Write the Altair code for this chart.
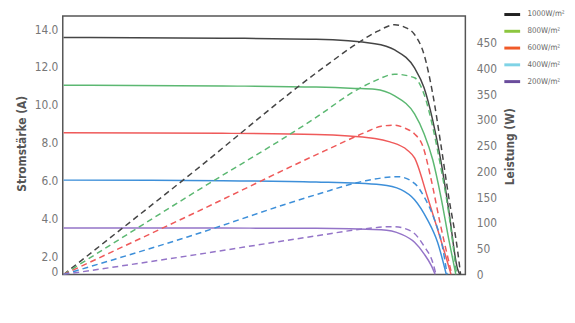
import altair as alt
import pandas as pd

FONT = "DejaVu Sans Condensed, Liberation Sans Narrow, sans-serif"

series = ["1000", "800", "600", "400", "200"]
legend_labels = ["1000W/m²", "800W/m²", "600W/m²", "400W/m²", "200W/m²"]
line_colors = ["#454545", "#5cb872", "#ef5a5a", "#3d8fd9", "#9474c8"]
legend_colors = ["#222222", "#8cc63f", "#f05a28", "#7fd3e6", "#6a4c9c"]

# Current (I-V) curves, left axis
i_v = {
    "1000": [0, 20, 31.8, 39.2, 41.7, 44.2, 45.4, 46.5, 47.5, 48.5, 49.6, 49.9],
    "800": [0, 20, 31.8, 36.7, 39.2, 41.7, 44.2, 45.4, 46.5, 47.5, 48.5, 49.4],
    "600": [0, 20, 31.8, 39.2, 41.1, 43.3, 44.2, 45.8, 47.1, 48.1, 48.8],
    "400": [0, 20, 31.8, 40.0, 42.5, 44.2, 45.8, 47.1, 48.2],
    "200": [0, 20, 31.8, 40.0, 42.5, 44.2, 45.4, 46.3, 46.8],
}
i_a = {
    "1000": [13.56, 13.52, 13.46, 13.23, 12.9, 11.95, 10.9, 9.17, 7.09, 4.48, 1.37, 1.05],
    "800": [11.04, 11.0, 10.94, 10.87, 10.82, 10.47, 9.52, 8.48, 7.09, 5.19, 2.93, 1.05],
    "600": [8.53, 8.5, 8.44, 8.23, 8.05, 7.61, 7.2, 5.18, 3.44, 2.05, 1.05],
    "400": [6.03, 6.0, 5.93, 5.79, 5.53, 5.0, 3.96, 2.75, 1.05],
    "200": [3.51, 3.5, 3.49, 3.41, 3.18, 2.75, 2.14, 1.53, 1.05],
}

# Power (P-V) curves, right axis
p_v = {
    "1000": [0, 15.6, 33, 37.1, 39.5, 41.7, 43.0, 44.2, 45.4, 46.5, 47.5, 48.5, 49.6, 50.0],
    "800": [0, 15.6, 31.8, 37.1, 39.2, 41.7, 44.2, 45.4, 46.5, 47.5, 48.5, 49.5],
    "600": [0, 15.6, 33, 38.0, 40.0, 41.7, 43.0, 44.2, 45.2, 46.3, 47.4, 48.9],
    "400": [0, 15.6, 31.8, 38.0, 42.1, 44.2, 45.4, 46.7, 47.7, 48.3],
    "200": [0, 15.6, 31.8, 38.0, 41.5, 43.8, 45.4, 46.5, 46.9],
}
p_w = {
    "1000": [0, 190, 405, 450, 472, 485, 480, 466, 427, 350, 254, 151, 49, 0],
    "800": [0, 151, 305, 360, 376, 389, 382, 350, 286, 209, 120, 0],
    "600": [0, 113, 241, 276, 288, 290, 284, 273, 251, 184, 101, 0],
    "400": [0, 73, 155, 182, 190, 177, 151, 107, 55, 0],
    "200": [0, 36, 75, 89, 93, 84, 55, 23, 0],
}

x_ticks = [0, 10, 20, 30, 40, 50]
left_ticks = [1.22, 2, 4, 6, 8, 10, 12, 14]
right_ticks = [0, 50, 100, 150, 200, 250, 300, 350, 400, 450]

rows_i, rows_p = [], []
for s, lab in zip(series, legend_labels):
    for k, (v, a) in enumerate(zip(i_v[s], i_a[s])):
        rows_i.append({"series": s, "label": lab, "V": v, "val": a, "order": k})
    for k, (v, w) in enumerate(zip(p_v[s], p_w[s])):
        rows_p.append({"series": s, "label": lab, "V": v, "val": w, "order": k})
df_i = pd.DataFrame(rows_i)
df_p = pd.DataFrame(rows_p)

x_enc = alt.X(
    "V:Q",
    scale=alt.Scale(domain=[-0.1, 50.6], nice=False, zero=False),
    axis=alt.Axis(
        values=x_ticks, title="Spannung (V)", titleX=209, titleY=37,
        titleBaseline="middle", titleAlign="center", labelPadding=7,
    ),
)
color_lines = alt.Color("series:N", scale=alt.Scale(domain=series, range=line_colors), legend=None)

cur = alt.Chart(df_i).mark_line(interpolate="monotone", strokeWidth=1.5, clip=True).encode(
    x=x_enc,
    y=alt.Y(
        "val:Q",
        scale=alt.Scale(domain=[1.05, 14.69], nice=False, zero=False),
        axis=alt.Axis(
            values=left_ticks, orient="left", title="Stromstärke (A)",
            labelExpr="datum.value < 1.5 ? '0' : format(datum.value, '.1f')",
            titleAngle=270, titleX=-42, titleY=129, titleBaseline="middle",
            titleAlign="center", labelPadding=5,
        ),
    ),
    color=color_lines,
    detail="series:N",
    order="order:Q",
)

powr = alt.Chart(df_p).mark_line(interpolate="monotone", strokeWidth=1.5, strokeDash=[6, 4], clip=True).encode(
    x=x_enc,
    y=alt.Y(
        "val:Q",
        scale=alt.Scale(domain=[0, 502], nice=False),
        axis=alt.Axis(
            values=right_ticks, orient="right", title="Leistung (W)",
            titleAngle=270, titleX=45, titleY=132, titleBaseline="middle",
            titleAlign="center", labelPadding=11,
        ),
    ),
    color=color_lines,
    detail="series:N",
    order="order:Q",
)

leg = alt.Chart(df_p).mark_line(opacity=0).encode(
    x=alt.X("V:Q", scale=alt.Scale(domain=[-0.1, 50.6], nice=False, zero=False), axis=None),
    y=alt.Y("val:Q", scale=alt.Scale(domain=[0, 502], nice=False), axis=None),
    color=alt.Color(
        "label:N",
        scale=alt.Scale(domain=legend_labels, range=legend_colors),
        legend=alt.Legend(
            title=None, orient="none", legendX=446, legendY=-11, symbolType="stroke",
            symbolSize=256, symbolStrokeWidth=3, symbolOpacity=1, labelFontSize=8,
            labelColor="#666", labelFont=FONT, labelOffset=6, rowPadding=1, padding=0,
        ),
    ),
)

chart = alt.layer(cur, powr, leg).resolve_scale(
    y="independent", color="independent"
).properties(
    width=408, height=262,
    autosize=alt.AutoSizeParams(type="none"),
    padding={"left": 55.5, "top": 6, "right": 103, "bottom": 45},
).configure_view(
    stroke="#555", strokeWidth=1.5
).configure_axis(
    domain=False, ticks=False, tickSize=0, grid=False,
    labelFont=FONT, labelFontSize=12, labelColor="#777",
    titleFont=FONT, titleFontSize=12, titleColor="#555", titleFontWeight="bold",
)

chart.save("out.html", embed_options={"renderer": "svg", "actions": False})
